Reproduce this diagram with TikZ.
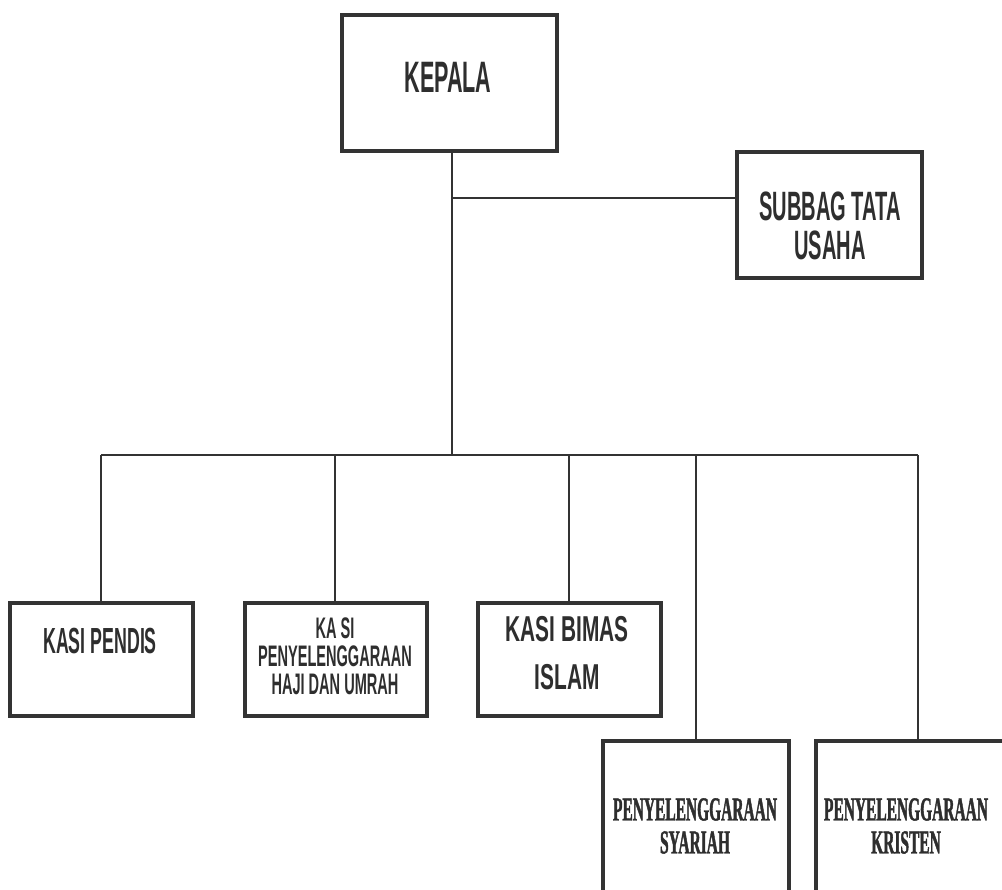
\documentclass[tikz,border=0pt]{standalone}
\usepackage{fontspec}
\newfontfamily\nsansA[FakeStretch=0.49]{Liberation Sans}
\newfontfamily\nsansB[FakeStretch=0.58]{Liberation Sans}
\newfontfamily\nserif[FakeStretch=0.46,FakeBold=1.2]{Liberation Serif}
\definecolor{ink}{HTML}{2E2E2E}
\definecolor{frame}{HTML}{333333}
\tikzset{
  orgbox/.style={draw=frame, line width=4.5pt, fill=white, inner sep=0pt},
  link/.style={draw=frame, line width=1.6pt},
  lbl/.style={text=ink, align=center, inner sep=0pt},
}
\begin{document}
\begin{tikzpicture}[x=1pt,y=-1pt]
\useasboundingbox (0,0) rectangle (1002,890);
\clip (0,0) rectangle (1002,890);
% boxes
\node[orgbox, minimum width=215pt, minimum height=136pt] (kepala) at (449.5,83) {};
\node[orgbox, minimum width=185pt, minimum height=126pt] (subbag) at (829.5,215) {};
\node[orgbox, minimum width=183pt, minimum height=113pt] (pendis) at (101.5,659.5) {};
\node[orgbox, minimum width=182pt, minimum height=113pt] (haji) at (336,659.5) {};
\node[orgbox, minimum width=183pt, minimum height=113pt] (bimas) at (569.5,659.5) {};
\node[orgbox, minimum width=186pt, minimum height=218pt] (syariah) at (696,850) {};
\node[orgbox, minimum width=204pt, minimum height=218pt] (kristen) at (918,850) {};
% labels
\node[lbl, font={\nsansA\bfseries\fontsize{44}{44}\selectfont}] (kepala-t) at (448,77) {KEPALA};
\node[lbl, font={\nsansA\bfseries\fontsize{41}{39}\selectfont}] (subbag-t) at (830,226) {SUBBAG TATA\\USAHA};
\node[lbl, font={\nsansA\bfseries\fontsize{36.3}{36}\selectfont}] (pendis-t) at (100,641) {KASI PENDIS};
\node[lbl, font={\nsansA\bfseries\fontsize{29.7}{28}\selectfont}] (haji-t) at (335,656) {KA SI\\PENYELENGGARAAN\\HAJI DAN UMRAH};
\node[lbl, font={\nsansB\bfseries\fontsize{36}{48}\selectfont}] (bimas-t) at (567,653) {KASI BIMAS\\ISLAM};
\node[lbl, font={\nserif\bfseries\fontsize{33.6}{33}\selectfont}] (syariah-t) at (695,826) {PENYELENGGARAAN\\SYARIAH};
\node[lbl, font={\nserif\bfseries\fontsize{33.6}{33}\selectfont}] (kristen-t) at (906,826) {PENYELENGGARAAN\\KRISTEN};
% connectors
\coordinate (jA) at (452,198);
\coordinate (jB) at (452,455);
\coordinate (busL) at (101,455);
\coordinate (busR) at (918,455);
\draw[link] (kepala.south -| jA) -- (jB);
\draw[link] (jA) -- (jA -| subbag.west);
\draw[link, line width=2.4pt] (busL) -- (busR);
\draw[link] (busL) -- (pendis.north -| busL);
\draw[link] (335,455) -- (haji.north -| 335,0);
\draw[link] (569,455) -- (bimas.north -| 569,0);
\draw[link] (696,455) -- (syariah.north -| 696,0);
\draw[link] (busR) -- (kristen.north);
\end{tikzpicture}
\end{document}
